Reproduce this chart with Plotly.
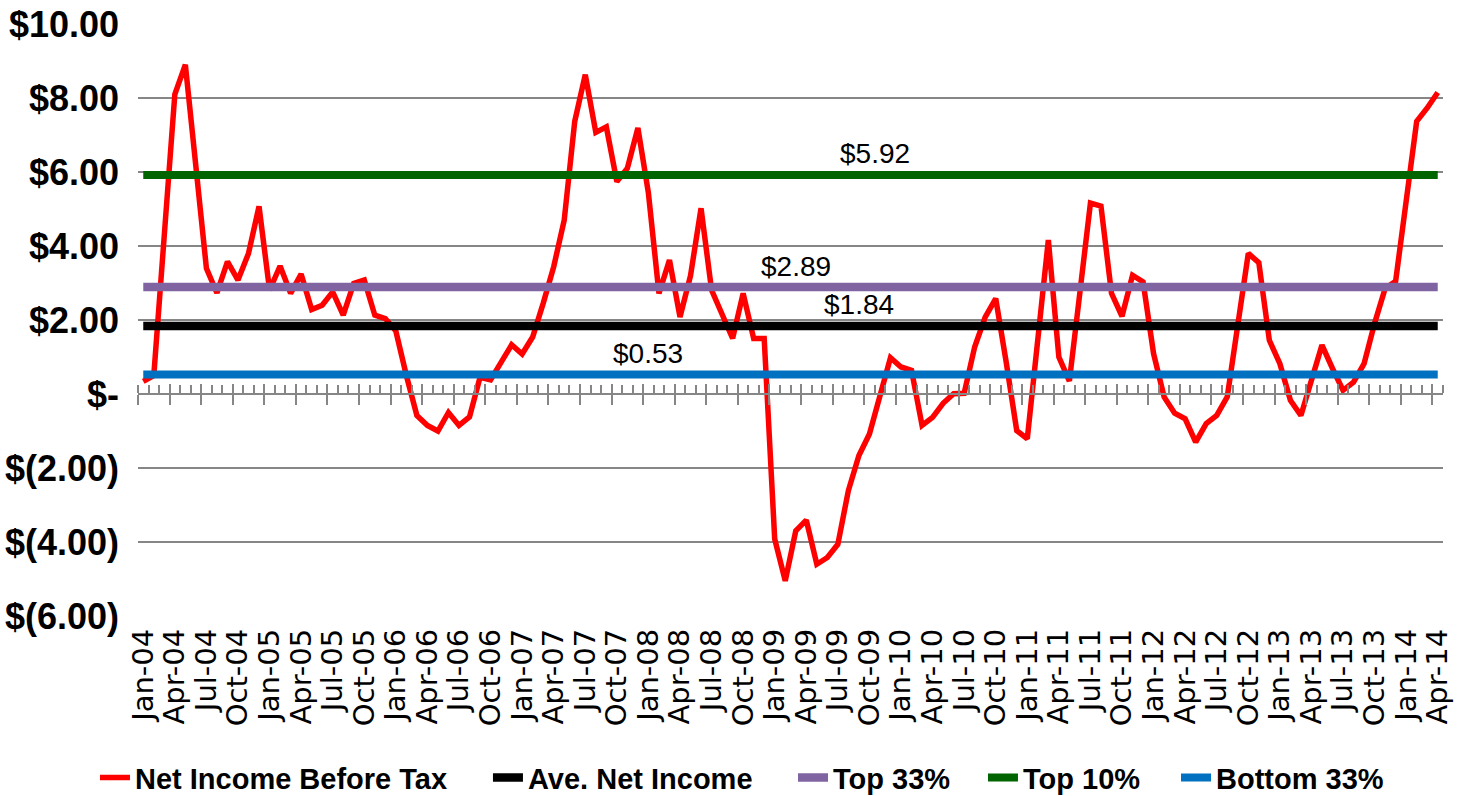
import plotly.graph_objects as go

# ---------------- data ----------------
month_names = ["Jan", "Feb", "Mar", "Apr", "May", "Jun", "Jul", "Aug", "Sep", "Oct", "Nov", "Dec"]
months = [f"{m}-{y:02d}" for y in range(4, 15) for m in month_names][:124]  # Jan-04 .. Apr-14

net_income = [
    0.34, 0.50, 4.30, 8.10, 8.90, 6.10, 3.40, 2.73, 3.58, 3.08, 3.80, 5.07,
    2.81, 3.46, 2.72, 3.24, 2.28, 2.40, 2.76, 2.13, 2.99, 3.08, 2.13, 2.04,
    1.70, 0.50, -0.58, -0.85, -1.00, -0.50, -0.85, -0.62, 0.45, 0.38, 0.88, 1.33,
    1.08, 1.54, 2.45, 3.44, 4.70, 7.37, 8.63, 7.07, 7.22, 5.74, 6.10, 7.19,
    5.43, 2.72, 3.62, 2.08, 3.20, 5.02, 2.81, 2.18, 1.50, 2.72, 1.50, 1.50,
    -3.92, -5.05, -3.70, -3.41, -4.60, -4.42, -4.06, -2.61, -1.66, -1.08, 0.01, 0.98,
    0.73, 0.64, -0.85, -0.63, -0.25, 0.01, 0.02, 1.27, 2.08, 2.58, 0.85, -0.99,
    -1.21, 1.45, 4.16, 1.00, 0.35, 2.75, 5.16, 5.08, 2.72, 2.10, 3.21, 3.03,
    1.09, -0.08, -0.52, -0.67, -1.30, -0.80, -0.58, -0.08, 1.81, 3.80, 3.55, 1.45,
    0.82, -0.17, -0.58, 0.39, 1.32, 0.69, 0.10, 0.32, 0.82, 1.91, 2.85, 3.05,
    5.20, 7.37, 7.73, 8.15,
]

ave_value = 1.84
top33_value = 2.89
top10_value = 5.92
bottom33_value = 0.53

ave_net_income = [ave_value] * len(months)
top33 = [top33_value] * len(months)
top10 = [top10_value] * len(months)
bottom33 = [bottom33_value] * len(months)

# category position of each reference line's data label
label_idx = {"top10": 69.5, "top33": 62, "ave": 68, "bottom33": 48}

y_tickvals = [10, 8, 6, 4, 2, 0, -2, -4, -6]
y_ticktext = ["$10.00", "$8.00", "$6.00", "$4.00", "$2.00", "$-", "$(2.00)", "$(4.00)", "$(6.00)"]

x = list(range(len(months)))
label_pos = x[::3]
label_text = months[::3]

# ---------------- figure ----------------
fig = go.Figure()

series = [
    ("Net Income Before Tax", net_income, "#FF0000", 5.5, "legend"),
    ("Ave. Net Income", ave_net_income, "#000000", 8.5, "legend2"),
    ("Top 33%", top33, "#8064A2", 8.5, "legend3"),
    ("Top 10%", top10, "#006400", 8, "legend4"),
    ("Bottom 33%", bottom33, "#0070C0", 8, "legend5"),
]
for name, vals, color, width, lg in series:
    fig.add_trace(go.Scatter(x=x, y=vals, mode="lines", name=name, legend=lg,
                             line=dict(color=color, width=width)))

# invisible traces to activate tick-only axes
fig.add_trace(go.Scatter(x=[0], y=[0], xaxis="x2", mode="markers", marker=dict(opacity=0),
                         showlegend=False, hoverinfo="skip"))
fig.add_trace(go.Scatter(x=[0], y=[0], xaxis="x3", mode="markers", marker=dict(opacity=0),
                         showlegend=False, hoverinfo="skip"))

label_font = dict(family="Liberation Sans, Arial, sans-serif", size=28, color="#000000")
for key, val in [("top10", top10_value), ("top33", top33_value), ("ave", ave_value), ("bottom33", bottom33_value)]:
    fig.add_annotation(x=label_idx[key], y=val, text=f"${val:.2f}", showarrow=False,
                       yanchor="middle", yshift=21, font=label_font)

grid_color = "#868686"
xr = [-0.5, len(months) - 0.5]
zero_pos = 6 / 16

legend_font = dict(family="Liberation Sans, Arial, sans-serif", size=29, color="#000000", weight="bold")
legend_x = [0.0647, 0.3324, 0.5402, 0.6696, 0.8011]


def legend_cfg(xpos):
    return dict(orientation="h", xref="container", yref="container", x=xpos, xanchor="left",
                y=0.023, yanchor="middle", font=legend_font, bgcolor="rgba(0,0,0,0)")


fig.update_layout(
    width=1468, height=796,
    margin=dict(l=138, r=25, t=24, b=180, autoexpand=False),
    paper_bgcolor="white", plot_bgcolor="white",
    showlegend=True,
    legend=legend_cfg(legend_x[0]),
    legend2=legend_cfg(legend_x[1]),
    legend3=legend_cfg(legend_x[2]),
    legend4=legend_cfg(legend_x[3]),
    legend5=legend_cfg(legend_x[4]),
    xaxis=dict(range=xr, tickmode="array", tickvals=label_pos, ticktext=label_text,
               tickangle=-90, ticks="", showgrid=False, showline=False, zeroline=False,
               automargin=False, ticklabelstandoff=6,
               tickfont=dict(family="DejaVu Sans, sans-serif", size=29, color="#000000")),
    xaxis2=dict(range=xr, overlaying="x", anchor="free", position=zero_pos, side="bottom",
                tickmode="linear", tick0=-0.5, dtick=3, ticks="outside", ticklen=10, tickwidth=2,
                tickcolor=grid_color, showticklabels=False, showgrid=False, zeroline=False,
                showline=True, linecolor=grid_color, linewidth=2, automargin=False,
                minor=dict(ticks="inside", ticklen=8, tickwidth=2, tickcolor=grid_color,
                           tick0=-0.5, dtick=1, showgrid=False)),
    xaxis3=dict(range=xr, overlaying="x", anchor="free", position=zero_pos, side="bottom",
                tickmode="linear", tick0=-0.5, dtick=3, ticks="inside", ticklen=10, tickwidth=2,
                tickcolor=grid_color, showticklabels=False, showgrid=False, zeroline=False,
                showline=False, automargin=False),
    yaxis=dict(range=[-6, 10], tickmode="array", tickvals=y_tickvals, ticktext=y_ticktext,
               showgrid=True, gridcolor=grid_color, gridwidth=1.6, zeroline=False,
               showline=False, ticks="", ticklabelstandoff=18, automargin=False,
               tickfont=dict(family="Liberation Sans, Arial, sans-serif", size=36, color="#000000", weight="bold")),
)

fig.write_html("out.html", config={"displayModeBar": False},
               post_script="document.body.style.margin='0';document.body.style.overflow='hidden';")
